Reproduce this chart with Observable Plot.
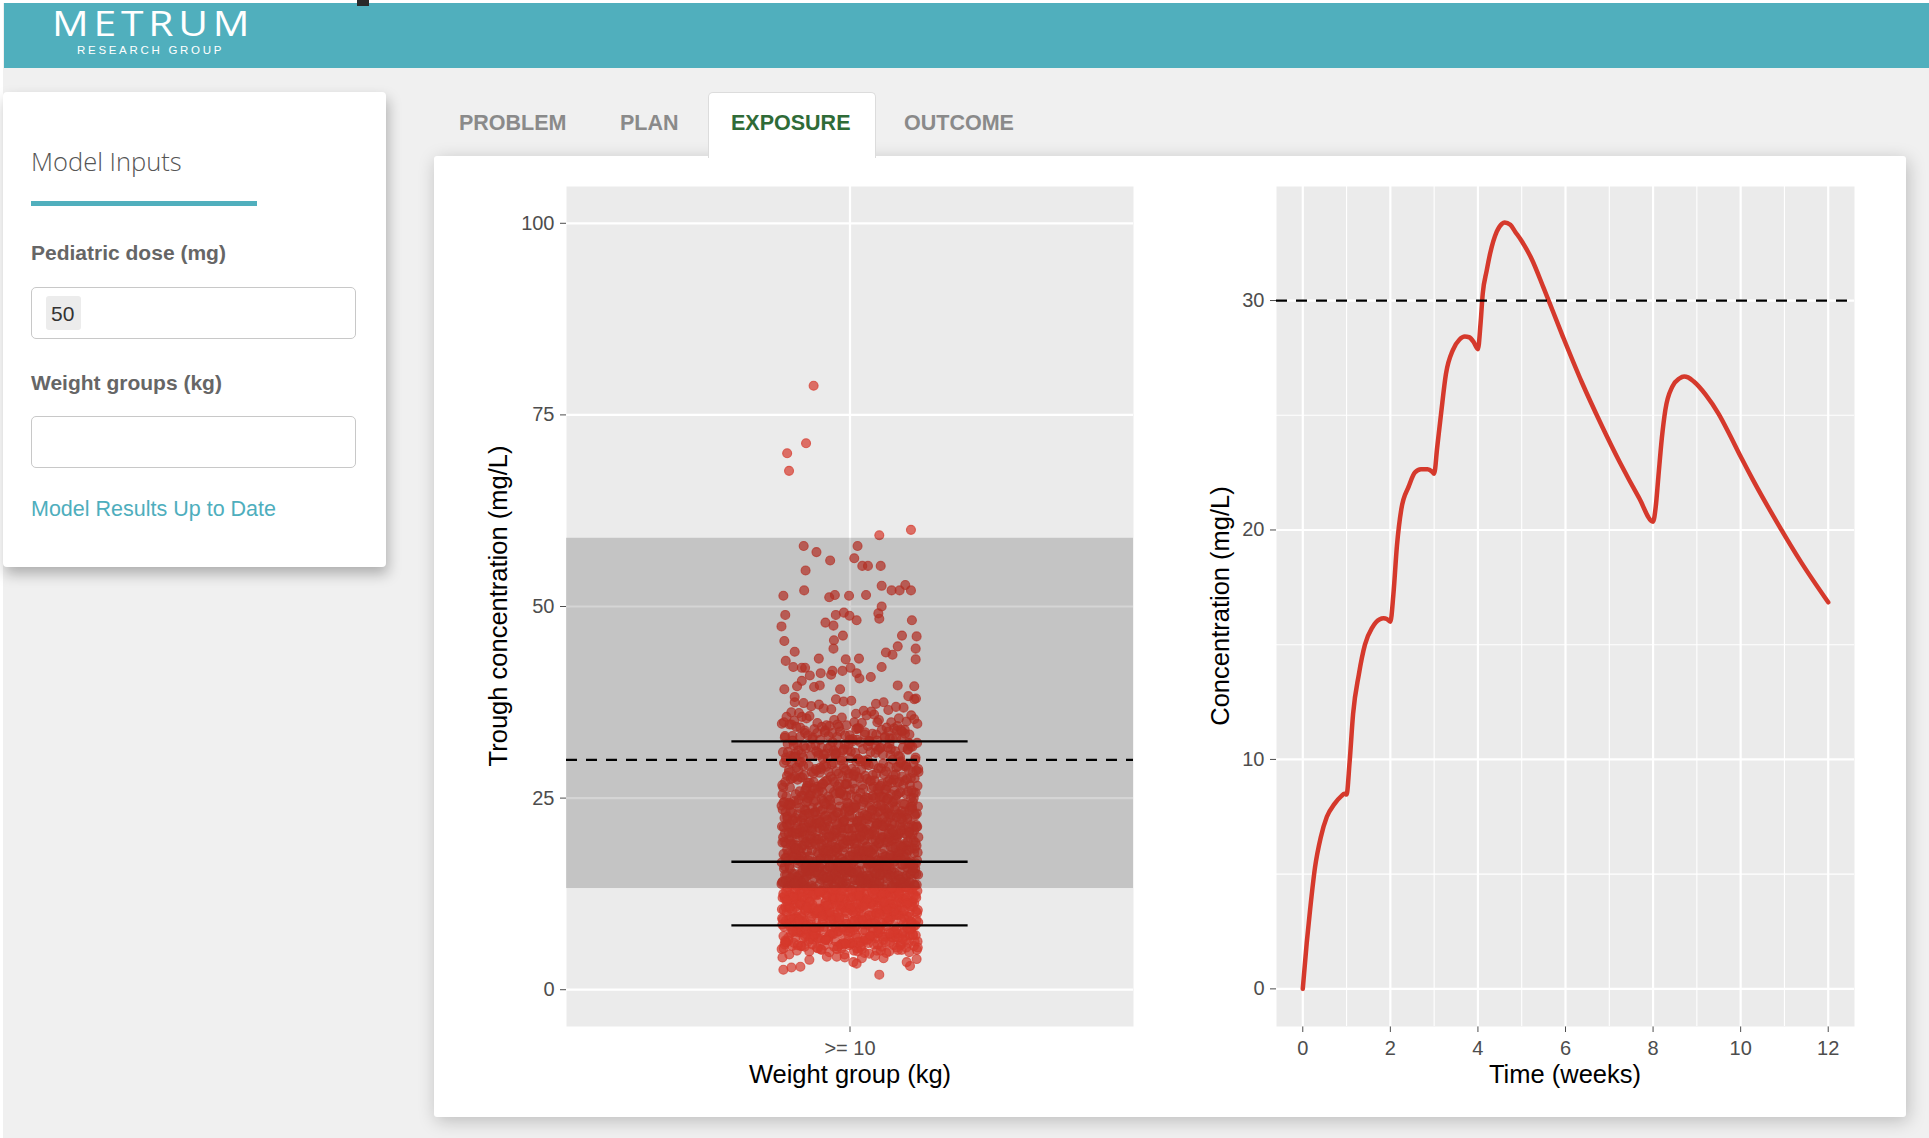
<!DOCTYPE html>
<html>
<head>
<meta charset="utf-8">
<title>Exposure</title>
<script src="https://cdn.jsdelivr.net/npm/d3@7"></script>
<script src="https://cdn.jsdelivr.net/npm/@observablehq/plot@0.6"></script>
<style>
  html, body { margin: 0; padding: 0; }
  body {
    width: 1929px; height: 1138px; position: relative; overflow: hidden;
    background: #f0f0f0; font-family: "Liberation Sans", Arial, Helvetica, sans-serif;
  }
  .abs { position: absolute; }
  #edge { left: 0; top: 0; width: 3px; height: 1138px; background: #fff; }
  #topedge { left: 0; top: 0; width: 1929px; height: 3px; background: #fff; }
  #header { left: 4px; top: 3px; width: 1925px; height: 65px; background: #50afbd; }
  #mark { left: 357px; top: 0; width: 12px; height: 6px; background: #2a2a2a; }
  #logo { left: 52px; top: 6px; color: #fff; font-family: "Open Sans", Lato, sans-serif; font-weight: 400;
          font-size: 34px; line-height: 34px; letter-spacing: 4px; transform: scaleX(1.2); transform-origin: 0 0; }
  #logosub { left: 77px; top: 45px; color: #fff; font-family: "Liberation Sans", Arial, sans-serif;
             font-size: 11.5px; line-height: 11.5px; letter-spacing: 2.7px; }
  #sidebar { left: 3px; top: 92px; width: 383px; height: 475px; background: #fff; border-radius: 4px;
             box-shadow: 2px 7px 14px rgba(0,0,0,0.28); }
  .sbtitle { color: #555; font-family: "Open Sans", Lato, sans-serif; font-weight: 300; font-size: 25.5px;
             line-height: 25.5px; white-space: nowrap; }
  .sbrule { background: #50afbd; height: 5px; }
  .sblabel { color: #666; font-weight: bold; font-size: 21px; line-height: 21px; white-space: nowrap; }
  .sbinput { background: #fff; border: 1px solid #c8c8c8; border-radius: 5px; box-sizing: border-box; }
  .chip { background: #ececec; border-radius: 3px; }
  .chiptext { color: #333; font-size: 21px; line-height: 21px; }
  .status { color: #4eaebd; font-size: 21.5px; line-height: 21.5px; white-space: nowrap; }
  #card { left: 434px; top: 156px; width: 1472px; height: 961px; background: #fff; border-radius: 3px;
          box-shadow: 2px 4px 18px rgba(0,0,0,0.22); }
  #activetab { left: 708px; top: 92px; width: 168px; height: 66px; background: #fff;
               border: 1px solid #dcdcdc; border-bottom: none; border-radius: 5px 5px 0 0; box-sizing: border-box; }
  .tab { font-weight: bold; font-size: 21.5px; line-height: 21.5px; color: #8a8a8a; white-space: nowrap; }
  .tab.on { color: #2f6b37; }
  .axtitle { color: #000; font-size: 25.5px; line-height: 25.5px; white-space: nowrap; }
  .rot { transform: translate(-50%, -50%) rotate(-90deg); }
  .ctr { transform: translateX(-50%); }
  svg { overflow: visible; }
</style>
</head>
<body>
<div class="abs" id="edge"></div>
<div class="abs" id="topedge"></div>
<div class="abs" id="header"></div>
<div class="abs" id="mark"></div>
<div class="abs" id="logo">METRUM</div>
<div class="abs" id="logosub">RESEARCH GROUP</div>

<div class="abs" id="sidebar"></div>
<div class="abs sbtitle" style="left:31px; top:149px;">Model Inputs</div>
<div class="abs sbrule" style="left:31px; top:201px; width:226px;"></div>
<div class="abs sblabel" style="left:31px; top:242px;">Pediatric dose (mg)</div>
<div class="abs sbinput" style="left:31px; top:287px; width:325px; height:52px;"></div>
<div class="abs chip" style="left:46px; top:296px; width:35px; height:34px;"></div>
<div class="abs chiptext" style="left:51px; top:303px;">50</div>
<div class="abs sblabel" style="left:31px; top:372px;">Weight groups (kg)</div>
<div class="abs sbinput" style="left:31px; top:416px; width:325px; height:52px;"></div>
<div class="abs status" style="left:31px; top:499px;">Model Results Up to Date</div>

<div class="abs" id="card"></div>
<div class="abs" id="activetab"></div>
<div class="abs tab" style="left:459px; top:113px;">PROBLEM</div>
<div class="abs tab" style="left:620px; top:113px;">PLAN</div>
<div class="abs tab on" style="left:731px; top:113px;">EXPOSURE</div>
<div class="abs tab" style="left:904px; top:113px;">OUTCOME</div>

<div class="abs" id="trough" style="left:505px; top:176px;"></div>
<div class="abs" id="profile" style="left:1200px; top:176px;"></div>

<div class="abs axtitle rot" style="left:499px; top:606px;">Trough concentration (mg/L)</div>
<div class="abs axtitle ctr" style="left:850px; top:1062px;">Weight group (kg)</div>
<div class="abs axtitle rot" style="left:1221px; top:606px;">Concentration (mg/L)</div>
<div class="abs axtitle ctr" style="left:1565px; top:1062px;">Time (weeks)</div>

<script>
// ---- Trough concentrations by weight group ----
const weightGroups = [">= 10"];
const troughTicks = [0, 25, 50, 75, 100];

// isolated subjects in the tails: [jitter offset, trough mg/L]
const troughTails = [
  [-0.077, 78.8], [-0.093, 71.3], [-0.133, 70.0], [-0.129, 67.7], [0.129, 60.0], [0.062, 59.3],
  [-0.098, 57.9], [0.016, 57.9], [-0.071, 57.1], [-0.042, 56.0], [0.009, 56.3], [0.026, 55.3],
  [0.038, 55.3], [0.065, 55.3], [-0.094, 54.7],
  [-0.097, 52.1], [0.067, 52.7], [-0.141, 51.4], [-0.044, 51.2], [-0.032, 51.5], [-0.002, 51.4],
  [0.034, 51.5], [0.088, 52.1], [0.105, 52.1], [0.117, 52.8], [0.129, 52.1], [0.067, 50.0],
  [0.060, 49.1], [0.062, 48.4], [-0.137, 48.9], [-0.030, 48.9], [-0.013, 49.2], [-0.001, 48.8],
  [0.014, 48.2], [-0.052, 47.9], [-0.035, 47.5], [-0.145, 47.4], [0.131, 48.2], [-0.015, 46.2],
  [-0.034, 45.6], [-0.035, 44.5], [0.110, 46.2], [0.141, 46.1], [-0.139, 45.5], [0.101, 44.8],
  [0.139, 44.5], [0.076, 44.0], [0.090, 43.7], [0.139, 43.1], [-0.117, 44.1], [-0.066, 43.2],
  [-0.136, 42.9], [-0.009, 43.1], [0.019, 43.2], [-0.120, 42.1], [-0.102, 42.0], [-0.095, 42.0],
  [0.001, 42.0], [0.067, 42.1], [-0.085, 41.0], [-0.062, 41.3], [-0.040, 41.1], [-0.037, 41.6],
  [-0.016, 41.6], [0.014, 41.3], [0.020, 40.6], [0.044, 40.8], [-0.102, 40.3], [-0.112, 39.6],
  [-0.139, 39.2], [-0.117, 38.2], [-0.117, 37.5], [-0.076, 39.5], [-0.064, 39.7], [-0.021, 39.2],
  [0.101, 39.7], [0.136, 39.6], [0.136, 37.9],
  [0.062, 1.96], [-0.141, 2.6], [-0.124, 2.9], [-0.105, 3.0], [-0.086, 3.9], [-0.143, 4.2],
  [-0.049, 4.3], [-0.028, 4.3], [-0.011, 4.2], [0.007, 3.6], [0.014, 3.4], [0.025, 4.1],
  [0.071, 4.1], [0.053, 4.4], [0.127, 3.1], [0.120, 3.6], [0.141, 4.0]
];

// bulk of the simulated subjects (trough mg/L)
const troughBulk = [
  5.2,4.8,5.9,5.5,4.6,5.7,5.1,5.8,4.9,5.4,5.6,5.0,5.3,5.9,4.7,5.5,5.2,5.8,5.1,5.6,
  4.9,5.7,5.3,5.0,5.8,5.4,4.6,5.9,5.2,5.5,5.1,5.7,4.8,5.6,5.3,
  6.4,7.1,6.8,7.7,6.1,7.4,6.6,7.9,6.3,7.2,6.9,7.6,6.2,7.0,6.7,7.5,6.0,7.8,6.5,7.3,
  7.1,6.4,7.6,6.9,6.2,7.4,6.7,7.9,6.1,7.2,6.8,7.5,6.3,7.0,6.6,7.7,6.0,7.3,6.9,7.8,
  6.5,7.1,6.2,7.6,6.8,7.4,6.4,7.9,6.7,7.0,6.1,7.5,6.9,7.2,6.3,7.7,6.6,7.3,6.0,7.8,
  7.4,6.5,7.1,6.8,7.9,6.2,7.6,6.4,7.0,6.7,7.3,6.1,7.5,6.9,7.2,6.3,7.8,6.6,7.7,6.0,
  8.3,9.1,8.7,9.6,8.1,9.4,8.9,9.8,8.5,9.2,8.0,9.7,8.6,9.3,8.2,9.9,8.8,9.0,8.4,9.5,
  9.2,8.6,9.7,8.1,9.4,8.9,8.3,9.8,8.7,9.1,8.5,9.6,8.0,9.3,8.8,9.9,8.2,9.5,8.4,9.0,
  8.9,9.4,8.2,9.7,8.6,9.1,8.0,9.5,8.8,9.3,8.3,9.8,8.5,9.6,8.1,9.2,8.7,9.9,8.4,9.0,
  9.6,8.3,9.1,8.8,9.4,8.1,9.8,8.6,9.3,8.0,9.7,8.9,9.2,8.4,9.5,8.7,9.0,8.2,9.9,8.5,
  8.1,9.3,8.7,9.6,8.4,9.0,8.9,9.8,8.2,9.5,8.6,9.1,8.0,9.7,8.8,9.4,8.3,9.2,8.5,9.9,
  10.4,11.2,10.8,11.7,10.1,11.5,10.6,11.9,10.3,11.0,10.9,11.4,10.2,11.8,10.7,11.1,10.5,11.6,10.0,11.3,
  11.1,10.6,11.8,10.3,11.4,10.9,10.1,11.7,10.5,11.2,10.8,11.9,10.2,11.5,10.7,11.0,10.4,11.6,10.0,11.3,
  10.9,11.5,10.2,11.1,10.6,11.8,10.4,11.3,10.8,11.0,10.1,11.7,10.5,11.4,10.3,11.9,10.7,11.2,10.0,11.6,
  11.4,10.3,11.0,10.8,11.7,10.1,11.2,10.6,11.9,10.4,11.5,10.9,11.1,10.2,11.8,10.5,11.3,10.7,11.6,10.0,
  10.6,11.3,10.2,11.8,10.9,11.1,10.4,11.6,10.0,11.4,10.7,11.9,10.3,11.0,10.8,11.5,10.1,11.2,10.5,11.7,
  11.0,10.5,11.6,10.1,11.3,10.8,11.9,10.4,11.1,10.7,11.5,10.2,11.8,10.6,11.4,10.9,11.2,10.3,11.7,10.0,
  10.8,11.4,10.3,11.9,10.6,
  12.3,13.1,12.8,13.6,12.1,13.4,12.6,13.9,12.4,13.0,12.9,13.7,12.2,13.3,12.7,13.8,12.0,13.5,12.5,13.2,
  13.4,12.7,13.9,12.2,13.1,12.9,12.4,13.6,12.0,13.3,12.8,13.8,12.3,13.0,12.6,13.5,12.1,13.7,12.5,13.2,
  12.9,13.3,12.1,13.8,12.6,13.0,12.4,13.6,12.8,13.1,12.2,13.9,12.7,13.4,12.0,13.5,12.5,13.2,12.3,13.7,
  13.0,12.5,13.7,12.3,13.4,12.9,12.0,13.6,12.7,13.1,12.2,13.8,12.6,13.3,12.8,13.9,12.1,13.5,12.4,13.2,
  12.6,13.5,12.2,13.0,12.9,13.8,12.4,13.3,12.0,13.6,12.7,13.1,12.3,13.9,12.8,13.4,12.1,13.7,12.5,13.2,
  13.3,12.8,13.6,12.1,13.0,12.5,13.9,12.3,13.4,12.7,13.2,12.0,13.8,12.6,13.1,12.9,13.5,12.2,13.7,12.4,
  12.7,13.4,12.1,13.8,12.5,13.0,12.9,13.6,12.3,13.2,
  14.2,15.1,14.7,15.6,14.0,15.4,14.5,15.9,14.3,15.0,14.8,15.7,14.1,15.3,14.6,15.8,14.4,15.2,14.9,15.5,
  15.3,14.6,15.8,14.1,15.0,14.9,14.3,15.6,14.7,15.2,14.0,15.9,14.5,15.4,14.8,15.1,14.2,15.7,14.4,15.5,
  14.8,15.4,14.2,15.0,14.6,15.9,14.0,15.3,14.9,15.6,14.4,15.1,14.7,15.8,14.3,15.5,14.1,15.2,14.5,15.7,
  15.6,14.3,15.1,14.9,15.8,14.5,15.3,14.0,15.5,14.7,15.0,14.2,15.9,14.6,15.4,14.8,15.2,14.1,15.7,14.4,
  14.5,15.2,14.1,15.7,14.8,15.0,14.3,15.5,14.9,15.3,14.0,15.8,14.6,15.1,14.4,15.6,14.7,15.4,14.2,15.9,
  15.0,14.7,15.5,14.2,15.3,14.9,15.8,14.4,15.1,14.0,15.6,14.6,15.2,14.8,15.9,14.3,15.4,14.5,15.7,14.1,
  14.9,15.3,14.4,15.8,14.1,15.0,14.7,15.5,14.2,15.6,
  16.3,17.2,16.8,17.7,16.0,17.4,16.5,17.9,16.2,17.0,16.9,17.5,16.1,17.3,16.7,17.8,16.4,17.1,16.6,17.6,
  17.3,16.6,17.9,16.1,17.0,16.8,16.3,17.5,16.9,17.2,16.0,17.8,16.4,17.4,16.7,17.1,16.2,17.6,16.5,17.7,
  16.8,17.4,16.2,17.0,16.6,17.9,16.0,17.3,16.9,17.6,16.4,17.1,16.7,17.8,16.3,17.5,16.1,17.2,16.5,17.7,
  17.6,16.3,17.1,16.9,17.8,16.5,17.3,16.0,17.5,16.7,17.0,16.2,17.9,16.6,17.4,16.8,17.2,16.1,17.7,16.4,
  16.5,17.2,16.1,17.7,16.8,17.0,16.3,17.5,16.9,17.3,16.0,17.8,16.6,17.1,16.4,17.6,16.7,17.4,16.2,17.9,
  17.0,16.7,17.5,16.2,17.3,16.9,17.8,16.4,17.1,16.0,17.6,16.6,17.2,16.8,17.9,16.3,17.4,16.5,17.7,16.1,
  18.4,19.3,18.9,19.7,18.1,19.5,18.6,19.9,18.3,19.0,18.8,19.6,18.2,19.2,18.7,19.8,18.0,19.4,18.5,19.1,
  19.2,18.5,19.8,18.1,19.4,18.9,18.3,19.6,18.7,19.0,18.0,19.9,18.4,19.3,18.8,19.5,18.2,19.7,18.6,19.1,
  18.7,19.5,18.2,19.1,18.9,19.8,18.4,19.3,18.0,19.6,18.6,19.0,18.8,19.9,18.3,19.4,18.1,19.2,18.5,19.7,
  19.6,18.3,19.0,18.8,19.7,18.5,19.2,18.1,19.9,18.6,19.4,18.0,19.5,18.9,19.1,18.4,19.8,18.2,19.3,18.7,
  18.5,19.1,18.0,19.6,18.7,19.4,18.3,19.9,18.8,19.2,18.1,19.7,18.6,19.0,18.9,19.5,18.2,19.3,18.4,19.8,
  19.3,18.6,19.9,18.2,19.0,18.8,19.5,18.4,19.7,18.1,
  20.3,21.2,20.8,21.7,20.1,21.4,20.6,21.9,20.4,21.0,20.9,21.5,20.2,21.3,20.7,21.8,20.0,21.1,20.5,21.6,
  21.3,20.6,21.8,20.2,21.0,20.9,20.4,21.5,20.7,21.2,20.0,21.9,20.3,21.4,20.8,21.1,20.1,21.7,20.5,21.6,
  20.8,21.4,20.2,21.1,20.6,21.9,20.0,21.3,20.9,21.6,20.4,21.0,20.7,21.8,20.3,21.5,20.1,21.2,20.5,21.7,
  21.6,20.3,21.1,20.9,21.8,20.5,21.3,20.0,21.5,20.7,21.0,20.2,21.9,20.6,21.4,20.8,21.2,20.1,21.7,20.4,
  20.5,21.2,20.1,21.7,20.8,21.0,20.3,21.5,20.9,21.3,20.0,21.8,20.6,21.1,20.4,
  22.4,23.3,22.8,23.7,22.1,23.5,22.6,23.9,22.3,23.0,22.9,23.6,22.2,23.2,22.7,23.8,22.0,23.4,22.5,23.1,
  23.2,22.6,23.8,22.1,23.4,22.9,22.3,23.6,22.7,23.0,22.0,23.9,22.4,23.3,22.8,23.5,22.2,23.7,22.5,23.1,
  22.7,23.5,22.2,23.1,22.9,23.8,22.4,23.3,22.0,23.6,22.6,23.0,22.8,23.9,22.3,23.4,22.1,23.2,22.5,23.7,
  23.6,22.3,23.0,22.8,23.7,22.5,23.2,22.1,23.9,22.6,23.4,22.0,23.5,22.9,23.1,22.4,23.8,22.2,23.3,22.7,
  24.3,25.2,24.8,25.7,24.1,25.4,24.6,25.9,24.4,25.0,24.9,25.5,24.2,25.3,24.7,25.8,24.0,25.1,24.5,25.6,
  25.3,24.6,25.8,24.2,25.0,24.9,24.4,25.5,24.7,25.2,24.0,25.9,24.3,25.4,24.8,25.1,24.1,25.7,24.5,25.6,
  24.8,25.4,24.2,25.1,24.6,25.9,24.0,25.3,24.9,25.6,24.4,25.0,24.7,25.8,24.3,25.5,24.1,25.2,24.5,25.7,
  25.0,24.4,25.6,24.1,25.3,
  26.4,27.3,26.9,27.7,26.1,27.5,26.6,27.9,26.3,27.0,26.8,27.6,26.2,27.2,26.7,27.8,26.0,27.4,26.5,27.1,
  27.2,26.5,27.8,26.1,27.4,26.9,26.3,27.6,26.7,27.0,26.0,27.9,26.4,27.3,26.8,27.5,26.2,27.7,26.6,27.1,
  26.7,27.5,26.2,27.1,26.9,27.8,26.4,27.3,26.0,27.6,26.6,27.0,26.8,27.9,26.3,
  28.3,29.2,28.8,29.7,28.1,29.4,28.6,29.9,28.4,29.0,28.9,29.5,28.2,29.3,28.7,29.8,28.0,29.1,28.5,29.6,
  29.3,28.6,29.8,28.2,29.0,28.9,28.4,29.5,28.7,29.2,28.0,29.9,28.3,29.4,28.8,29.1,28.1,29.7,28.5,29.6,
  28.8,29.4,28.2,29.1,28.6,
  30.4,31.3,30.8,31.7,30.1,31.5,30.6,31.9,30.3,31.0,30.9,31.6,30.2,31.2,30.7,31.8,30.0,31.4,30.5,31.1,
  31.2,30.5,31.8,30.1,31.4,30.9,30.3,31.6,30.7,31.0,30.0,31.9,30.4,31.3,30.8,31.5,30.2,31.7,
  32.3,33.2,32.8,33.7,32.1,33.4,32.6,33.9,32.4,33.0,32.9,33.5,32.2,33.3,32.7,33.8,32.0,33.1,32.5,33.6,
  33.3,32.6,33.8,32.1,33.0,32.9,32.4,33.5,32.7,33.2,32.0,33.9,
  34.4,35.3,34.8,35.7,34.1,35.5,34.6,35.9,34.3,35.0,34.9,35.6,34.2,35.2,34.7,35.8,34.0,35.4,34.5,35.1,
  35.2,34.5,35.8,34.1,35.4,34.9,34.3,35.6,
  36.3,37.2,36.8,37.7,36.1,37.5,36.6,38.0,36.4,37.0,36.9,37.6,36.2,37.3,36.7,38.3,36.0,37.4,36.5,37.9,
  5.4,6.1,7.3,5.8,6.6,7.7,5.1,6.9,7.2,5.6,6.3,7.5,5.9,6.8,7.0,5.3,6.4,7.8,5.7,6.2,
  7.4,5.5,6.7,7.1,5.2,6.0,7.6,5.9,6.5,7.9,5.0,6.9,7.3,5.6,6.2,7.0,5.4,6.6,7.5,5.8,
  21.4,24.7,22.9,20.6,25.3,23.5,21.9,24.1,20.2,25.8,22.4,23.8,21.1,24.9,20.8,25.5,22.7,23.2,21.6,24.4,
  20.4,25.1,22.2,23.9,21.3,24.6,20.9,25.7,22.6,23.4,21.8,24.2,20.1,25.9,22.5,23.6,21.2,24.8,20.7,25.4,
  22.1,23.1,21.7,24.3,20.5,25.2,22.8,23.7,21.5,24.5,20.3,25.6,22.3,23.3,21.0,24.0,20.0,25.0,22.0,23.0,
  27.4,30.2,28.7,26.5,31.6,29.3,27.9,30.8,26.1,31.2,28.4,29.7,27.1,30.5,26.8,31.9,28.9,29.1,27.6,30.1,
  26.3,31.4,28.2,29.9,27.3,30.6,26.7,31.1,28.6,29.5,27.8,30.3,26.2,31.7,28.1,29.4,27.5,30.9,26.9,31.3,
  28.5,29.2,27.2,30.7,26.4,31.8,28.8,29.6,27.7,30.4,26.6,31.5,28.3,29.8,27.0,30.0,26.0,31.0,28.0,29.0,
  33.4,32.7,34.2,33.0,32.3,34.7,33.6,32.9,34.4,33.2,32.5,34.9,33.8,32.1,34.1,33.5,32.8,34.6,33.1,32.4,
  34.8,33.7,32.6,
  8.6,12.4,10.2,13.7,9.1,11.5,8.3,12.9,10.8,13.1,9.6,11.2,8.9,12.1,10.5,13.5,9.3,11.8,8.1,12.6,
  10.0,13.9,9.8,11.0,8.5,12.3,10.7,13.3,9.4,11.6,8.7,12.8,10.3,13.0,9.0,11.4,8.2,12.0,10.9,13.6,
  32.9,31.4,34.6,33.3,30.7,32.2,34.0,31.8,33.7,30.9,34.9,32.5,31.1,33.9,32.0,34.3,31.6,33.1
];

// 5th, 50th and 95th percentiles of the troughs
const troughQuantiles = [8.4, 16.7, 32.4];
// reference exposure range (shaded) and target trough (dashed)
const referenceRange = [13.2, 58.9];
const targetTrough = [30];

// ---- Typical concentration-time profile ----
const timeWeeks = [
  0, 0.09, 0.17, 0.28, 0.41, 0.55, 0.72, 0.88, 0.95, 1.0,
  1.07, 1.15, 1.28, 1.42, 1.59, 1.75, 1.85, 1.92, 2.0,
  2.07, 2.15, 2.25, 2.42, 2.56, 2.7, 2.85, 2.95, 3.0,
  3.07, 3.16, 3.27, 3.43, 3.58, 3.7, 3.8, 3.9, 4.0,
  4.06, 4.11, 4.2, 4.28, 4.43, 4.55, 4.61, 4.74, 4.85, 4.98,
  5.23, 5.5, 5.94, 6.37, 6.81, 7.24, 7.68, 8.0,
  8.06, 8.12, 8.2, 8.28, 8.44, 8.6, 8.71, 8.8, 8.93,
  9.2, 9.5, 9.75, 10.0, 10.29, 10.84, 11.38, 12.0
];
const concMgL = [
  0, 2.0, 3.5, 5.3, 6.6, 7.5, 8.05, 8.4, 8.5, 8.47,
  9.9, 12.0, 13.7, 15.0, 15.76, 16.1, 16.15, 16.12, 16.0,
  17.2, 19.3, 20.9, 21.9, 22.5, 22.65, 22.65, 22.55, 22.45,
  23.6, 25.1, 26.8, 27.85, 28.3, 28.43, 28.4, 28.2, 27.88,
  29.0, 30.3, 31.3, 32.06, 33.0, 33.35, 33.4, 33.3, 33.0, 32.65,
  31.8, 30.55, 28.43, 26.45, 24.62, 22.95, 21.4, 20.36,
  21.0, 22.3, 24.0, 25.23, 26.25, 26.6, 26.69, 26.65, 26.47,
  25.9, 25.05, 24.15, 23.2, 22.15, 20.3, 18.6, 16.85
];
const timeTicks = [0, 2, 4, 6, 8, 10, 12];
const timeMinor = [1, 3, 5, 7, 9, 11];
const concTicks = [0, 10, 20, 30];
const concMinor = [5, 15, 25];

// ---- drawing ----
const red = "#d5392c";
const panelFill = "#ebebeb";
const axisStyle = {
  fontFamily: "'Liberation Sans', Arial, Helvetica, sans-serif",
  fontSize: "20px",
  color: "#4d4d4d",
  background: "transparent",
  overflow: "visible"
};

// horizontal jitter for the bulk: golden-ratio low-discrepancy sequence
const jitterHalf = 0.145;
const spread = i => (((i + 1) * 0.6180339887 + 0.37) % 1) * 2 - 1;

const groupPos = 1; // weightGroups[0] sits at x = 1
const troughPoints = [
  ...troughBulk.map((v, i) => ({x: groupPos + spread(i) * jitterHalf, y: v})),
  ...troughTails.map(([o, v]) => ({x: groupPos + o, y: v}))
];

const xLim = [groupPos - 0.6, groupPos + 0.6];

const trough = Plot.plot({
  width: 638, height: 890,
  marginLeft: 61, marginRight: 10, marginTop: 10, marginBottom: 40,
  style: axisStyle,
  x: {domain: xLim, ticks: weightGroups.map((g, i) => i + 1), tickFormat: v => weightGroups[v - 1],
      tickSize: 6, tickPadding: 8, label: null},
  y: {domain: [-4.8, 104.8], ticks: troughTicks, tickSize: 6, tickPadding: 6, label: null},
  marks: [
    Plot.frame({fill: panelFill, stroke: "none"}),
    Plot.ruleY(troughTicks, {stroke: "#fff", strokeWidth: 2.2}),
    Plot.ruleX(weightGroups.map((g, i) => i + 1), {stroke: "#fff", strokeWidth: 2.2}),
    Plot.dot(troughPoints, {x: "x", y: "y", r: 4.5, fill: red, fillOpacity: 0.7,
                            stroke: red, strokeOpacity: 0.7, strokeWidth: 1.1}),
    Plot.rect([referenceRange], {x1: xLim[0], x2: xLim[1], y1: d => d[0], y2: d => d[1],
                                 fill: "#000", fillOpacity: 0.165}),
    Plot.ruleY(targetTrough, {stroke: "#000", strokeWidth: 2.2, strokeDasharray: "11,9"}),
    Plot.ruleY(troughQuantiles, {x1: groupPos - 0.25, x2: groupPos + 0.25, stroke: "#000", strokeWidth: 2.4})
  ]
});
document.getElementById("trough").appendChild(trough);

const profileData = timeWeeks.map((t, i) => ({t, c: concMgL[i]}));

const profile = Plot.plot({
  width: 664, height: 890,
  marginLeft: 76, marginRight: 10, marginTop: 10, marginBottom: 40,
  style: axisStyle,
  x: {domain: [-0.6, 12.6], ticks: timeTicks, tickSize: 6, tickPadding: 8, label: null},
  y: {domain: [-1.64, 34.97], ticks: concTicks, tickSize: 6, tickPadding: 6, label: null},
  marks: [
    Plot.frame({fill: panelFill, stroke: "none"}),
    Plot.ruleY(concMinor, {stroke: "#fff", strokeWidth: 1.1}),
    Plot.ruleX(timeMinor, {stroke: "#fff", strokeWidth: 1.1}),
    Plot.ruleY(concTicks, {stroke: "#fff", strokeWidth: 2.2}),
    Plot.ruleX(timeTicks, {stroke: "#fff", strokeWidth: 2.2}),
    Plot.line(profileData, {x: "t", y: "c", stroke: red, strokeWidth: 4.5, strokeLinejoin: "round", curve: "monotone-x"}),
    Plot.ruleY(targetTrough, {stroke: "#000", strokeWidth: 2.2, strokeDasharray: "11,9"})
  ]
});
document.getElementById("profile").appendChild(profile);
</script>
</body>
</html>
